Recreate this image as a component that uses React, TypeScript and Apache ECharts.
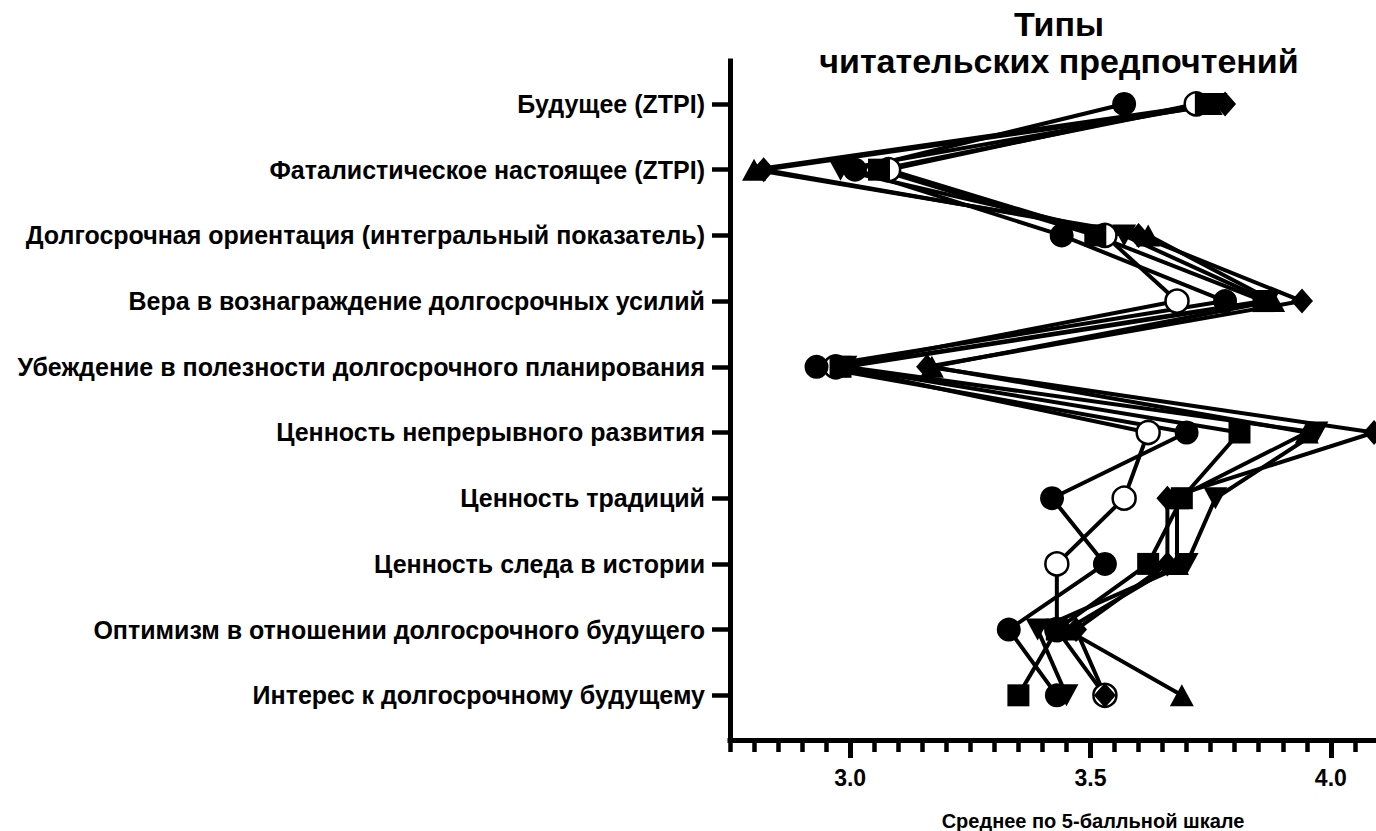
import React, { useEffect, useRef } from "react";
import * as echarts from "echarts";

const categories = [
  "Будущее (ZTPI)",
  "Фаталистическое настоящее (ZTPI)",
  "Долгосрочная ориентация (интегральный показатель)",
  "Вера в вознаграждение долгосрочных усилий",
  "Убеждение в полезности долгосрочного планирования",
  "Ценность непрерывного развития",
  "Ценность традиций",
  "Ценность следа в истории",
  "Оптимизм в отношении долгосрочного будущего",
  "Интерес к долгосрочному будущему",
];

const filledCircle = [3.57, 3.01, 3.44, 3.78, 2.93, 3.70, 3.42, 3.53, 3.33, 3.43];
const openCircle = [3.72, 3.08, 3.53, 3.68, 2.97, 3.62, 3.57, 3.43, 3.43, 3.53];
const square = [3.74, 3.06, 3.51, 3.86, 2.98, 3.81, 3.69, 3.62, 3.43, 3.35];
const triangleUp = [3.75, 2.80, 3.62, 3.88, 3.17, 3.95, 3.68, 3.68, 3.45, 3.69];
const triangleDown = [3.76, 2.98, 3.57, 3.87, 2.99, 3.97, 3.76, 3.70, 3.39, 3.45];
const diamond = [3.78, 2.82, 3.60, 3.94, 3.16, 4.09, 3.66, 3.66, 3.47, 3.53];

const majorTicks = [3.0, 3.5, 4.0];
const minorTicks = [
  2.75, 2.8, 2.85, 2.9, 2.95, 3.0, 3.05, 3.1, 3.15, 3.2, 3.25, 3.3, 3.35, 3.4,
  3.45, 3.5, 3.55, 3.6, 3.65, 3.7, 3.75, 3.8, 3.85, 3.9, 3.95, 4.0, 4.05,
];
const categoryIndex = [0, 1, 2, 3, 4, 5, 6, 7, 8, 9];

const FONT = "'Liberation Sans', Arial, sans-serif";

export default function App() {
  const ref = useRef<HTMLDivElement>(null);
  useEffect(() => {
    if (!ref.current) return;
    const chart = echarts.init(ref.current, null, { renderer: "svg" });
    const mk = (
      name: string,
      values: number[],
      symbol: string,
      size: number | number[],
      opts: any = {}
    ) => ({
      name,
      type: "line",
      data: values.map((v, i) => [v, categoryIndex[i]]),
      symbol,
      symbolSize: size,
      showSymbol: true,
      lineStyle: { color: "#000", width: 4 },
      itemStyle: { color: "#000" },
      z: 2,
      ...opts,
    });
    chart.setOption({
      animation: false,
      backgroundColor: "#fff",
      textStyle: { fontFamily: FONT },
      title: [
        {
          text: "Типы\nчитательских предпочтений",
          left: 1054,
          top: 0,
          textAlign: "center",
          textStyle: {
            fontFamily: FONT,
            fontSize: 34,
            fontWeight: "bold",
            color: "#000",
            lineHeight: 37,
          },
        },
        {
          text: "Среднее по 5-балльной шкале",
          left: 1088,
          top: 806,
          textAlign: "center",
          textStyle: {
            fontFamily: FONT,
            fontSize: 20,
            fontWeight: "bold",
            color: "#000",
          },
        },
      ],
      grid: { left: 730, right: 0, top: 61, bottom: 91, containLabel: false },
      xAxis: [
        {
          type: "value",
          min: 2.75,
          max: 4.094,
          position: "bottom",
          splitLine: { show: false },
          axisLine: {
            show: true,
            onZero: false,
            lineStyle: { color: "#000", width: 5, cap: "square" },
          },
          axisTick: {
            show: true,
            customValues: majorTicks,
            length: 18,
            lineStyle: { color: "#000", width: 5 },
          },
          axisLabel: {
            customValues: majorTicks,
            formatter: (v: number) => v.toFixed(1),
            margin: 26,
            fontSize: 23,
            fontWeight: "bold",
            color: "#000",
            fontFamily: FONT,
          },
        },
        {
          type: "value",
          min: 2.75,
          max: 4.094,
          position: "bottom",
          offset: 0,
          splitLine: { show: false },
          axisLine: { show: false, onZero: false },
          axisTick: {
            show: true,
            customValues: minorTicks,
            length: 12,
            lineStyle: { color: "#000", width: 4.5 },
          },
          axisLabel: { show: false },
        },
      ],
      yAxis: {
        type: "value",
        min: -0.654,
        max: 9.68,
        inverse: true,
        splitLine: { show: false },
        axisLine: {
          show: true,
          onZero: false,
          lineStyle: { color: "#000", width: 5, cap: "square" },
        },
        axisTick: {
          show: true,
          customValues: categoryIndex,
          length: 18,
          lineStyle: { color: "#000", width: 4.5 },
        },
        axisLabel: {
          customValues: categoryIndex,
          formatter: (v: number) => categories[Math.round(v)] ?? "",
          margin: 25,
          fontSize: 25,
          fontWeight: "bold",
          color: "#000",
          fontFamily: FONT,
        },
      },
      series: [
        mk("Тип ○", openCircle, "circle", 23, {
          itemStyle: { color: "#fff", borderColor: "#000", borderWidth: 2.5 },
        }),
        mk("Тип ▲", triangleUp, "triangle", [24, 22]),
        mk("Тип ▼", triangleDown, "triangle", [24, 22], { symbolRotate: 180 }),
        mk("Тип ◆", diamond, "diamond", [22, 25]),
        mk("Тип ■", square, "rect", 22),
        mk("Тип ●", filledCircle, "circle", 24),
      ],
    });
    return () => chart.dispose();
  }, []);
  return (
    <div
      ref={ref}
      style={{ position: "fixed", left: 0, top: 0, width: 1376, height: 831 }}
    />
  );
}
